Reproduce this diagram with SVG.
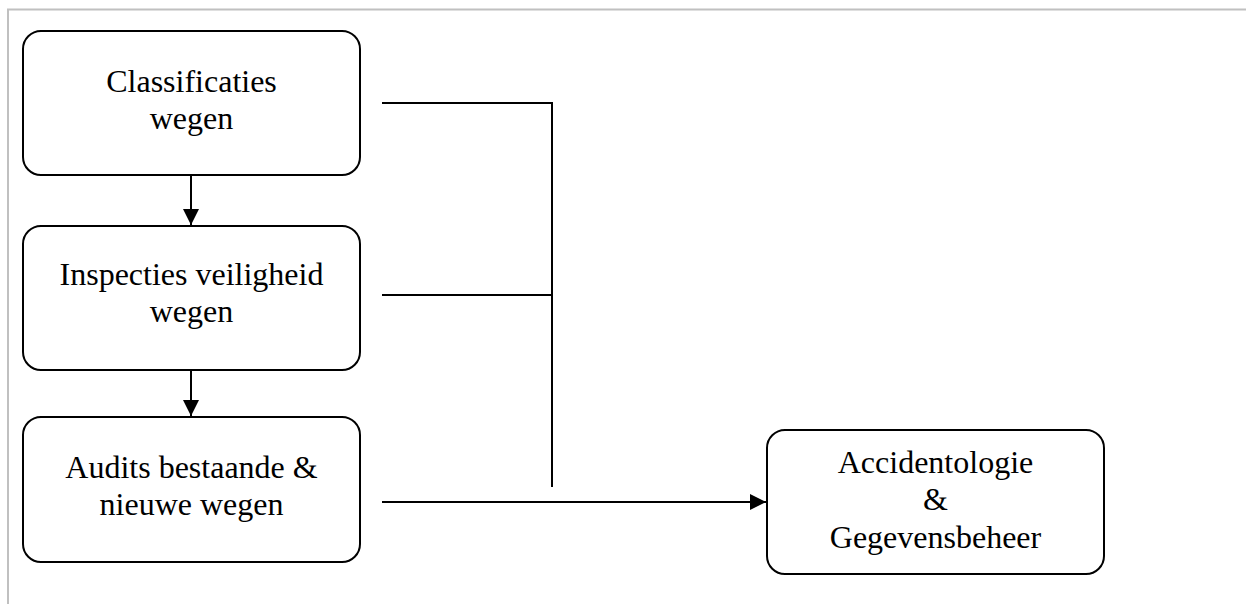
<svg xmlns="http://www.w3.org/2000/svg" width="1246" height="604" viewBox="0 0 1246 604">
<style>
.box{fill:#fff;stroke:#000;stroke-width:2}
.t{font-family:"Liberation Serif","Times New Roman",serif;font-size:32px;fill:#000;text-anchor:middle}
.c{fill:none;stroke:#000;stroke-width:2}
</style>
<defs>
<marker id="ah" viewBox="0 0 16 16" refX="16" refY="8" markerWidth="16" markerHeight="16" markerUnits="userSpaceOnUse" orient="auto">
<path d="M0,0 L16,8 L0,16 Z" fill="#000"/>
</marker>
</defs>
<rect width="1246" height="604" fill="#fff"/>
<path d="M8,604 V9.5 H1246" fill="none" stroke="#c0c0c0" stroke-width="2"/>
<g id="n1"><rect class="box" x="23" y="31" width="337" height="144" rx="18"/>
<text class="t" x="191.5" y="92">Classificaties</text><text class="t" x="191.5" y="129">wegen</text></g>
<g id="n2"><rect class="box" x="23" y="226" width="337" height="144" rx="18"/>
<text class="t" x="191.5" y="285">Inspecties veiligheid</text><text class="t" x="191.5" y="322">wegen</text></g>
<g id="n3"><rect class="box" x="23" y="417" width="337" height="145" rx="18"/>
<text class="t" x="191.5" y="478">Audits bestaande &amp;</text><text class="t" x="191.5" y="515">nieuwe wegen</text></g>
<g id="n4"><rect class="box" x="767" y="430" width="337" height="144" rx="18"/>
<text class="t" x="935.5" y="473">Accidentologie</text><text class="t" x="935.5" y="510">&amp;</text><text class="t" x="935.5" y="548">Gegevensbeheer</text></g>
<g id="connectors">
<line class="c" x1="191" y1="176" x2="191" y2="225" marker-end="url(#ah)"/>
<line class="c" x1="191" y1="371" x2="191" y2="416" marker-end="url(#ah)"/>
<path class="c" d="M382,103 H552 V487"/>
<line class="c" x1="382" y1="295" x2="552" y2="295"/>
<line class="c" x1="382" y1="502" x2="766" y2="502" marker-end="url(#ah)"/>
</g>
</svg>
